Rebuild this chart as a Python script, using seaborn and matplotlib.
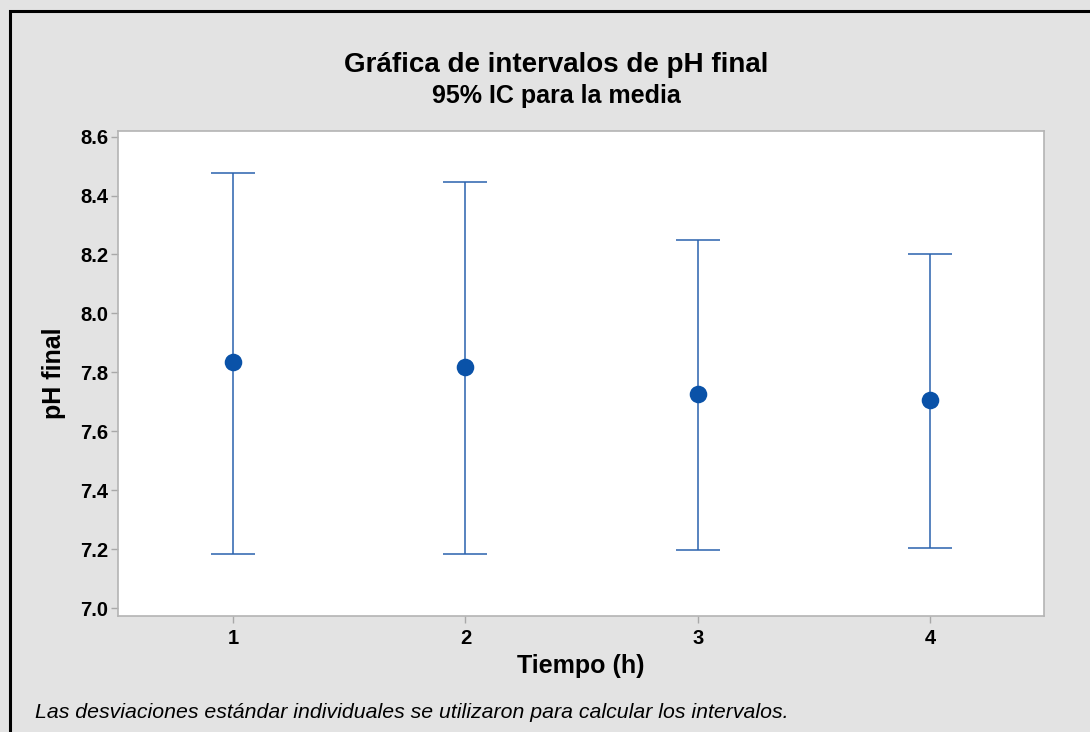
import pandas as pd
import matplotlib.pyplot as plt
import seaborn as sns
from matplotlib.patches import Rectangle

# Intervalos de 95% IC para la media de pH final
tiempo = [1, 2, 3, 4]
media = [7.835, 7.817, 7.726, 7.706]
inferior = [7.185, 7.185, 7.196, 7.204]
superior = [8.477, 8.446, 8.249, 8.203]

df = pd.DataFrame({"Tiempo": tiempo, "Media": media, "Inf": inferior, "Sup": superior})

sns.set_theme(style="white")
plt.rcParams["font.family"] = ["Liberation Sans", "DejaVu Sans"]
plt.rcParams["text.color"] = "black"
plt.rcParams["axes.labelcolor"] = "black"

azul = "#0a52a8"
fig = plt.figure(figsize=(10.9, 7.32), dpi=100, facecolor="#e3e3e3")
ax = fig.add_axes([118 / 1090, 1 - 616 / 732, (1044 - 118) / 1090, (616 - 131) / 732])
ax.set_facecolor("white")

ax.errorbar(df["Tiempo"], df["Media"],
            yerr=[df["Media"] - df["Inf"], df["Sup"] - df["Media"]],
            fmt="none", ecolor="#2a62ad", elinewidth=1.1, capsize=15.5, capthick=1.1, zorder=2)
sns.scatterplot(data=df, x="Tiempo", y="Media", ax=ax, color=azul, marker="o",
                s=160, edgecolor=azul, linewidth=0, zorder=3)

ax.set_xlim(0.505, 4.49)
ax.set_ylim(6.973, 8.619)
ax.set_xticks(tiempo)
ax.set_yticks([7.0, 7.2, 7.4, 7.6, 7.8, 8.0, 8.2, 8.4, 8.6])
ax.set_yticklabels(["7.0", "7.2", "7.4", "7.6", "7.8", "8.0", "8.2", "8.4", "8.6"])
ax.tick_params(axis="both", direction="out", length=5, width=1, color="#a8a8a8",
               labelsize=14.5, pad=2, bottom=True, left=True, labelcolor="black")
ax.tick_params(axis="x", pad=4)
for lbl in ax.get_xticklabels() + ax.get_yticklabels():
    lbl.set_fontweight("bold")
for s in ax.spines.values():
    s.set_color("#b4b4b4")
    s.set_linewidth(1.2)

ax.set_xlabel("Tiempo (h)", fontsize=18, fontweight="bold", labelpad=5)
ax.set_ylabel("pH final", fontsize=18, fontweight="bold", labelpad=10)

fig.text(0.5105, 1 - 65 / 732, "Gráfica de intervalos de pH final", ha="center", va="center",
         fontsize=20, fontweight="bold")
fig.text(0.5105, 1 - 96 / 732, "95% IC para la media", ha="center", va="center",
         fontsize=18, fontweight="bold")
fig.text(35 / 1090, 1 - 712 / 732,
         "Las desviaciones estándar individuales se utilizaron para calcular los intervalos.",
         ha="left", va="center", fontsize=15.3, style="italic")

# marco negro
fig.patches.append(Rectangle((9.5 / 1090, -0.1), 1.2, 1 - 11 / 732 + 0.1, transform=fig.transFigure,
                             fill=False, edgecolor="black", linewidth=2.2, zorder=0))

fig.savefig("out.png", dpi=100, facecolor=fig.get_facecolor())
